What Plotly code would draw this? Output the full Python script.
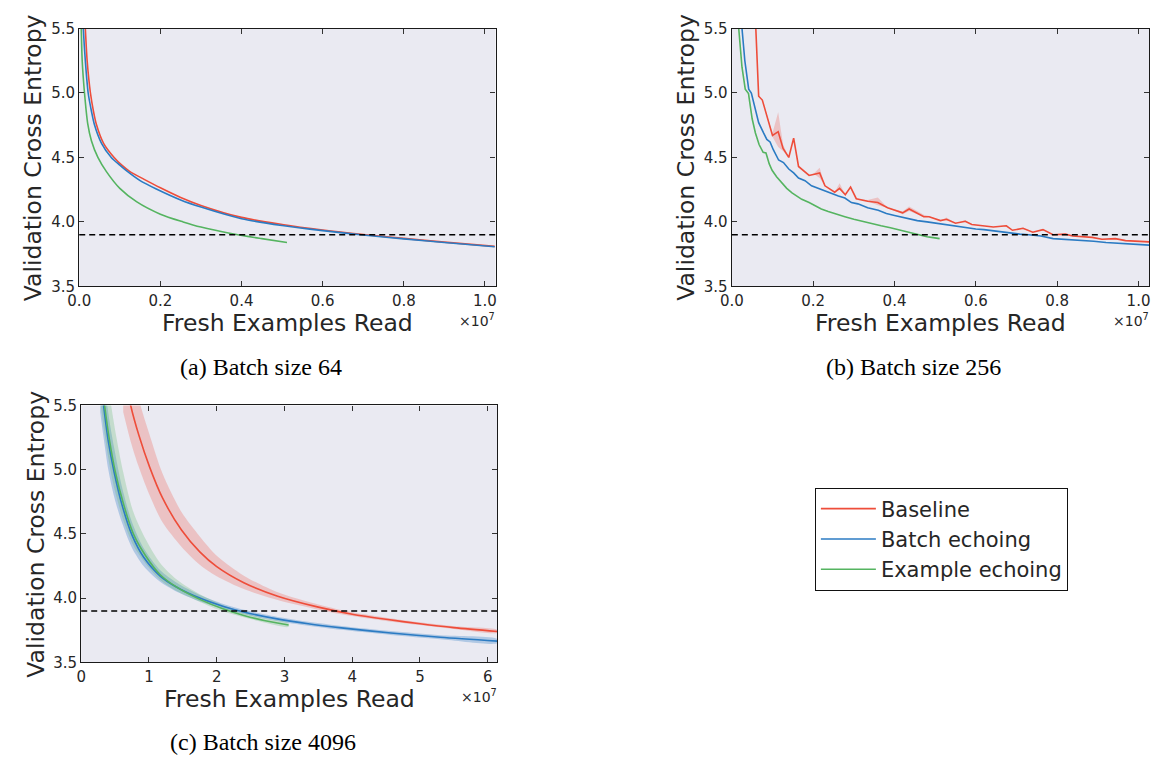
import plotly.graph_objects as go

# ---------------- data (x in units of 1e7 fresh examples) ----------------
THRESHOLD = 3.9
SERIES = ["Baseline", "Batch echoing", "Example echoing"]
CAPTIONS = ["(a) Batch size 64", "(b) Batch size 256", "(c) Batch size 4096"]
Y_TICKS = [3.5, 4.0, 4.5, 5.0, 5.5]
AB_X_TICKS = [0.0, 0.2, 0.4, 0.6, 0.8, 1.0]
C_X_TICKS = [0, 1, 2, 3, 4, 5, 6]

# (a) batch size 64
a_base_x = [0.013, 0.015, 0.0195, 0.0276, 0.035, 0.042, 0.06, 0.086, 0.105, 0.125, 0.16, 0.2, 0.25, 0.3, 0.4, 0.5, 0.6, 0.7, 0.8, 0.9, 1.024]
a_base_y = [5.62, 5.5, 5.25, 5.0, 4.86, 4.76, 4.61, 4.5, 4.44, 4.39, 4.33, 4.265, 4.19, 4.128, 4.035, 3.98, 3.937, 3.902, 3.872, 3.843, 3.81]
a_batch_x = [0.008, 0.01, 0.015, 0.022, 0.03, 0.037, 0.055, 0.079, 0.1, 0.117, 0.15, 0.19, 0.25, 0.3, 0.4, 0.5, 0.6, 0.7, 0.8, 0.9, 1.024]
a_batch_y = [5.65, 5.5, 5.25, 5.0, 4.86, 4.76, 4.61, 4.5, 4.44, 4.395, 4.32, 4.255, 4.17, 4.115, 4.025, 3.972, 3.932, 3.898, 3.868, 3.84, 3.807]
a_ex_x = [0.004, 0.005, 0.0073, 0.013, 0.021, 0.03, 0.046, 0.067, 0.1, 0.142, 0.2, 0.256, 0.3, 0.374, 0.45, 0.512]
a_ex_y = [5.65, 5.5, 5.25, 5.0, 4.76, 4.63, 4.5, 4.39, 4.26, 4.155, 4.06, 4.0, 3.96, 3.91, 3.87, 3.84]

# (b) batch size 256
b_base_x = [0.055, 0.066, 0.075, 0.10, 0.114, 0.126, 0.14, 0.152, 0.164, 0.19,
            0.203, 0.216, 0.229, 0.253, 0.265, 0.279, 0.292, 0.306, 0.334, 0.359,
            0.383, 0.42, 0.436, 0.472, 0.485, 0.513, 0.528, 0.55, 0.574, 0.59,
            0.643, 0.675, 0.69, 0.716, 0.74, 0.765, 0.79, 0.82, 0.838, 0.886,
            0.91, 0.943, 0.968, 1.026]
b_base_y = [5.8, 4.975, 4.945, 4.67, 4.70, 4.57, 4.50, 4.65, 4.43, 4.36,
            4.37, 4.38, 4.28, 4.23, 4.26, 4.21, 4.27, 4.18, 4.16, 4.15,
            4.11, 4.07, 4.10, 4.04, 4.04, 4.01, 4.02, 3.99, 4.005, 3.98,
            3.96, 3.97, 3.935, 3.95, 3.92, 3.94, 3.90, 3.905, 3.89, 3.88,
            3.865, 3.87, 3.855, 3.845]
b_base_lo = [5.8, 4.975, 4.945, 4.66, 4.58, 4.55, 4.50, 4.65, 4.43, 4.36,
             4.37, 4.34, 4.28, 4.23, 4.25, 4.21, 4.27, 4.18, 4.16, 4.13,
             4.11, 4.06, 4.085, 4.04, 4.04, 4.01, 4.01, 3.99, 4.0, 3.98,
             3.96, 3.965, 3.935, 3.945, 3.92, 3.935, 3.90, 3.9, 3.89, 3.88,
             3.865, 3.865, 3.855, 3.84]
b_base_hi = [5.8, 4.975, 4.945, 4.69, 4.85, 4.60, 4.50, 4.65, 4.43, 4.36,
             4.38, 4.42, 4.28, 4.23, 4.30, 4.21, 4.27, 4.18, 4.17, 4.19,
             4.11, 4.08, 4.12, 4.055, 4.045, 4.01, 4.035, 3.99, 4.015, 3.98,
             3.96, 3.975, 3.935, 3.955, 3.92, 3.945, 3.90, 3.91, 3.89, 3.88,
             3.865, 3.875, 3.855, 3.85]
b_batch_x = [0.020, 0.025, 0.032, 0.0415, 0.048, 0.056, 0.066, 0.078, 0.086, 0.094,
             0.102, 0.115, 0.127, 0.14, 0.152, 0.164, 0.18, 0.196, 0.212, 0.229,
             0.245, 0.262, 0.278, 0.294, 0.31, 0.334, 0.36, 0.38, 0.40, 0.42,
             0.44, 0.456, 0.48, 0.50, 0.521, 0.55, 0.578, 0.60, 0.62, 0.643,
             0.67, 0.69, 0.708, 0.73, 0.76, 0.79, 0.82, 0.862, 0.89, 0.92,
             0.943, 0.97, 1.0, 1.026]
b_batch_y = [5.75, 5.5, 5.25, 5.03, 5.0, 4.9, 4.77, 4.69, 4.64, 4.62,
             4.56, 4.48, 4.46, 4.41, 4.38, 4.34, 4.32, 4.28, 4.26, 4.24,
             4.215, 4.20, 4.185, 4.15, 4.14, 4.11, 4.09, 4.065, 4.05, 4.035,
             4.02, 4.01, 4.00, 3.99, 3.98, 3.965, 3.955, 3.945, 3.94, 3.93,
             3.92, 3.91, 3.905, 3.90, 3.89, 3.87, 3.865, 3.855, 3.85, 3.84,
             3.835, 3.83, 3.825, 3.82]
b_ex_x = [0.012, 0.017, 0.025, 0.033, 0.041, 0.05, 0.058, 0.067, 0.077, 0.084,
          0.092, 0.099, 0.11, 0.123, 0.135, 0.148, 0.16, 0.172, 0.19, 0.205,
          0.22, 0.237, 0.255, 0.278, 0.3, 0.318, 0.34, 0.367, 0.39, 0.416,
          0.435, 0.448, 0.465, 0.48, 0.495, 0.511]
b_ex_y = [5.8, 5.5, 5.2, 5.03, 4.995, 4.80, 4.69, 4.60, 4.54, 4.535,
          4.45, 4.40, 4.35, 4.30, 4.26, 4.225, 4.20, 4.175, 4.15, 4.125,
          4.10, 4.08, 4.06, 4.04, 4.02, 4.005, 3.99, 3.97, 3.955, 3.935,
          3.92, 3.905, 3.895, 3.885, 3.878, 3.87]

# (c) batch size 4096
c_base_x = [0.62, 0.73, 0.85, 1.01, 1.2, 1.48, 1.75, 2.0, 2.4, 2.9, 3.5, 4.0, 4.5, 5.0, 5.5, 6.144]
c_base_y = [5.80, 5.50, 5.27, 5.02, 4.78, 4.53, 4.36, 4.245, 4.12, 4.015, 3.93, 3.875, 3.835, 3.80, 3.77, 3.74]
c_base_lo = [5.45, 5.22, 5.02, 4.80, 4.59, 4.40, 4.26, 4.17, 4.07, 3.985, 3.91, 3.86, 3.822, 3.79, 3.76, 3.73]
c_base_hi = [6.20, 5.85, 5.55, 5.27, 4.97, 4.67, 4.48, 4.33, 4.175, 4.045, 3.95, 3.89, 3.848, 3.812, 3.781, 3.752]
c_batch_x = [0.28, 0.33, 0.40, 0.486, 0.60, 0.75, 0.92, 1.17, 1.41, 1.75, 2.1, 2.4, 2.87, 3.35, 3.84, 4.57, 5.30, 6.144]
c_batch_y = [5.75, 5.5, 5.22, 4.98, 4.73, 4.49, 4.32, 4.17, 4.085, 4.0, 3.935, 3.892, 3.84, 3.8, 3.768, 3.728, 3.695, 3.665]
c_batch_lo = [5.45, 5.25, 5.00, 4.79, 4.59, 4.39, 4.25, 4.125, 4.05, 3.975, 3.915, 3.874, 3.824, 3.785, 3.753, 3.713, 3.68, 3.65]
c_batch_hi = [6.05, 5.75, 5.44, 5.17, 4.87, 4.59, 4.39, 4.215, 4.12, 4.025, 3.955, 3.91, 3.856, 3.815, 3.783, 3.743, 3.71, 3.68]
c_ex_x = [0.29, 0.345, 0.42, 0.50, 0.62, 0.77, 0.95, 1.17, 1.41, 1.75, 2.1, 2.4, 2.7, 3.06]
c_ex_y = [5.75, 5.5, 5.22, 4.99, 4.74, 4.5, 4.33, 4.18, 4.085, 3.99, 3.915, 3.865, 3.825, 3.79]
c_ex_lo = [5.5, 5.28, 5.03, 4.83, 4.61, 4.41, 4.27, 4.14, 4.055, 3.97, 3.895, 3.85, 3.81, 3.776]
c_ex_hi = [6.2, 5.9, 5.58, 5.31, 4.98, 4.67, 4.46, 4.27, 4.145, 4.03, 3.945, 3.89, 3.845, 3.806]

# ---------------- styling ----------------
W, H = 1158, 768
RED, BLUE, GREEN = "#EE4D3A", "#2B7BC3", "#55B460"
RED_F, BLUE_F, GREEN_F = "rgba(238,77,58,0.25)", "rgba(43,123,195,0.30)", "rgba(85,180,96,0.25)"
BG = "#EAEAF2"
TXT = "#262626"
SANS = "DejaVu Sans"
SERIF = "Liberation Serif"


def fx(p):
    return p / W


def fy(p):
    return 1 - p / H


fig = go.Figure()


def add_band(x, lo, hi, color, xa, ya, shape="linear"):
    fig.add_trace(go.Scatter(
        x=list(x) + list(x)[::-1], y=list(hi) + list(lo)[::-1],
        fill="toself", fillcolor=color, mode="lines",
        line=dict(width=0, shape=shape, smoothing=0.8),
        hoverinfo="skip", showlegend=False, xaxis=xa, yaxis=ya))


def add_line(x, y, color, name, xa, ya, shape, legend=False):
    fig.add_trace(go.Scatter(
        x=x, y=y, mode="lines", name=name, legendgroup=name, showlegend=legend,
        line=dict(color=color, width=1.6, shape=shape, smoothing=0.8),
        xaxis=xa, yaxis=ya))


# panel (a)
add_line(a_base_x, a_base_y, RED, SERIES[0], "x", "y", "spline", True)
add_line(a_batch_x, a_batch_y, BLUE, SERIES[1], "x", "y", "spline", True)
add_line(a_ex_x, a_ex_y, GREEN, SERIES[2], "x", "y", "spline", True)

# panel (b)
add_band(b_base_x, b_base_lo, b_base_hi, RED_F, "x2", "y2")
add_line(b_base_x, b_base_y, RED, SERIES[0], "x2", "y2", "linear")
add_line(b_batch_x, b_batch_y, BLUE, SERIES[1], "x2", "y2", "linear")
add_line(b_ex_x, b_ex_y, GREEN, SERIES[2], "x2", "y2", "linear")

# panel (c)
add_band(c_base_x, c_base_lo, c_base_hi, RED_F, "x3", "y3", "spline")
add_band(c_batch_x, c_batch_lo, c_batch_hi, BLUE_F, "x3", "y3", "spline")
add_band(c_ex_x, c_ex_lo, c_ex_hi, GREEN_F, "x3", "y3", "spline")
add_line(c_base_x, c_base_y, RED, SERIES[0], "x3", "y3", "spline")
add_line(c_batch_x, c_batch_y, BLUE, SERIES[1], "x3", "y3", "spline")
add_line(c_ex_x, c_ex_y, GREEN, SERIES[2], "x3", "y3", "spline")

axis_common = dict(
    showgrid=False, zeroline=False, showline=True, linecolor="#1a1a1a", linewidth=1.4,
    mirror="ticks", ticks="inside", ticklen=5, tickwidth=1, tickcolor="#333333",
    tickfont=dict(family=SANS, size=15, color=TXT), ticklabeloverflow="allow",
)

# plot-area pixel boxes on the page
panels = {
    "a": dict(x0=68, x1=489, y0=20, y1=284),
    "b": dict(x0=728, x1=1150, y0=20, y1=284),
    "c": dict(x0=70, x1=491, y0=406, y1=669),
}

layout = dict(
    width=W, height=H, autosize=False,
    margin=dict(l=0, r=0, t=0, b=0),
    paper_bgcolor="white", plot_bgcolor=BG,
    showlegend=True,
    legend=dict(
        x=fx(812), y=fy(490), xanchor="left", yanchor="top",
        bgcolor="white", bordercolor="#111111", borderwidth=1,
        font=dict(family=SANS, size=21, color=TXT),
        traceorder="normal", itemwidth=55,
    ),
)

for i, (key, p) in enumerate(panels.items()):
    sfx = "" if i == 0 else str(i + 1)
    if key == "c":
        xr, xt, xtt = [0, 6.144], C_X_TICKS, [str(v) for v in C_X_TICKS]
    else:
        xr, xt, xtt = [0, 1.026], AB_X_TICKS, ["%.1f" % v for v in AB_X_TICKS]
    layout["xaxis" + sfx] = dict(axis_common, domain=[fx(p["x0"]), fx(p["x1"])],
                                 anchor="y" + sfx, range=xr, tickvals=xt, ticktext=xtt)
    layout["yaxis" + sfx] = dict(axis_common, domain=[fy(p["y1"]), fy(p["y0"])],
                                 anchor="x" + sfx, range=[3.5, 5.5], tickvals=Y_TICKS,
                                 ticktext=["%.1f" % v for v in Y_TICKS])

fig.update_layout(**layout)

shapes = []
annotations = []
for i, (key, p) in enumerate(panels.items()):
    sfx = "" if i == 0 else str(i + 1)
    shapes.append(dict(type="line", xref="x" + sfx + " domain", yref="y" + sfx,
                       x0=0, x1=1, y0=THRESHOLD, y1=THRESHOLD,
                       line=dict(color="black", width=1.5, dash="6px,4px")))
    cx = (p["x0"] + p["x1"]) / 2
    cy = (p["y0"] + p["y1"]) / 2
    annotations.append(dict(text="Validation Cross Entropy", textangle=-90,
                            x=fx(p["x0"] - 46), y=fy(cy), xref="paper", yref="paper",
                            xanchor="center", yanchor="middle", showarrow=False,
                            font=dict(family=SANS, size=23.5, color=TXT)))
    annotations.append(dict(text="Fresh Examples Read",
                            x=fx(cx), y=fy(p["y1"] + 38), xref="paper", yref="paper",
                            xanchor="center", yanchor="middle", showarrow=False,
                            font=dict(family=SANS, size=23.5, color=TXT)))
    annotations.append(dict(text="\u00d710<sup>7</sup>",
                            x=fx(p["x1"] + 2), y=fy(p["y1"] + 34), xref="paper", yref="paper",
                            xanchor="right", yanchor="middle", showarrow=False,
                            font=dict(family=SANS, size=14, color=TXT)))
    annotations.append(dict(text=CAPTIONS[i],
                            x=fx(cx - 27), y=fy(p["y1"] + 83 if key != "c" else p["y1"] + 82),
                            xref="paper", yref="paper",
                            xanchor="center", yanchor="middle", showarrow=False,
                            font=dict(family=SERIF, size=24, color="black")))

fig.update_layout(shapes=shapes, annotations=annotations)

fig.write_html("out.html", config={"displayModeBar": False},
               post_script="document.body.style.margin='0';")
